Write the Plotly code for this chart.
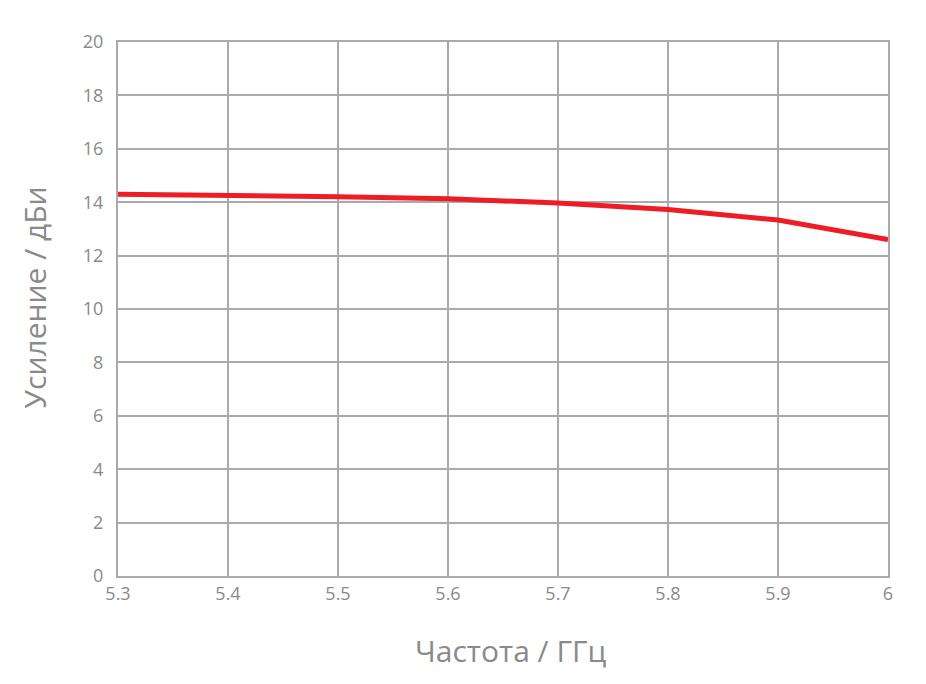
import plotly.graph_objects as go

freq = [5.3, 5.4, 5.5, 5.6, 5.7, 5.8, 5.9, 6.0]
gain = [14.3, 14.27, 14.2, 14.13, 13.97, 13.73, 13.33, 12.6]
x_ticks = [5.3, 5.4, 5.5, 5.6, 5.7, 5.8, 5.9, 6.0]
x_labels = ["5.3", "5.4", "5.5", "5.6", "5.7", "5.8", "5.9", "6"]
y_ticks = list(range(0, 21, 2))
x_title = "Частота / ГГц"
y_title = "Усиление / дБи"

fig = go.Figure()
fig.add_trace(go.Scatter(x=freq, y=gain, mode="lines",
                         line=dict(color="#ee1c25", width=5), cliponaxis=False))

grid = "#aaaaaa"
txt = "#8a8a8a"
fig.update_layout(
    width=926, height=684,
    margin=dict(l=110, r=46, t=34, b=116),
    paper_bgcolor="white", plot_bgcolor="white",
    showlegend=False,
    font=dict(family="Open Sans", color=txt, size=18),
    xaxis=dict(range=[5.3, 6.0], tickvals=x_ticks, ticktext=x_labels,
               showgrid=True, gridcolor=grid, gridwidth=2,
               showline=True, linecolor=grid, linewidth=2, mirror=True,
               zeroline=False, ticks="", ticklen=0),
    yaxis=dict(range=[0, 20], tickvals=y_ticks,
               showgrid=True, gridcolor=grid, gridwidth=2,
               showline=True, linecolor=grid, linewidth=2, mirror=True,
               zeroline=False, ticks="outside", ticklen=9, tickcolor="white"),
    annotations=[
        dict(text=x_title, xref="paper", yref="paper", x=0.5104, y=-0.1386,
             xanchor="center", yanchor="middle", showarrow=False,
             font=dict(size=30, color=txt)),
        dict(text=y_title, xref="paper", yref="paper", x=-0.1078, y=0.5215,
             xanchor="center", yanchor="middle", showarrow=False, textangle=-90,
             font=dict(size=30, color=txt)),
    ],
)
fig.write_html("out.html")
